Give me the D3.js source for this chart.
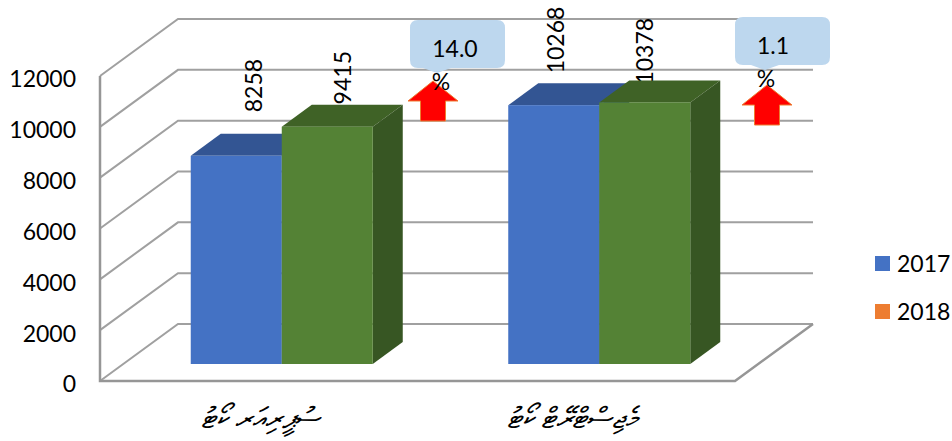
<!DOCTYPE html>
<html><head><meta charset="utf-8">
<script src="https://cdn.jsdelivr.net/npm/d3@7/dist/d3.min.js"></script>
<style>html,body{margin:0;padding:0;background:#fff}svg{display:block}text{font-family:Lato,"Noto Sans",sans-serif;fill:#000}</style>
</head><body><svg id="c" width="952" height="441"></svg>
<script>
const categories = ["ސުޕީރިއަރ ކޯޓު", "މެޖިސްޓްރޭޓް ކޯޓު"];
const seriesNames = ["2017", "2018"];
const values2017 = [8258, 10268];
const values2018 = [9415, 10378];
const changes = ["14.0", "1.1"];
const yTicks = [0, 2000, 4000, 6000, 8000, 10000, 12000];

const svg = d3.select("#c");
const y = d3.scaleLinear().domain([0, 12000]).range([381, 76]);
const barH = d3.scaleLinear().domain([0, 12000]).range([0, 302.5]);
const x = d3.scaleBand().domain(categories).range([100, 735]);
const xs = d3.scaleBand().domain(seriesNames).range([67.75, 249.75]);
const wall = {dx: 78, dy: -57}, barOff = {dx: 23, dy: -17}, depth = {dx: 30, dy: -22};
const gridC = "#a0a0a0";

// walls
const g = svg.append("g").attr("fill", "none").attr("stroke", gridC).attr("stroke-width", 2);
yTicks.forEach(t => {
  const yy = y(t);
  g.append("path").attr("d", d3.line()([[100, yy], [100 + wall.dx, yy + wall.dy], [735 + wall.dx, yy + wall.dy]]));
});
g.append("path").attr("d", d3.line()([[735 + wall.dx, y(0) + wall.dy], [735, y(0)], [100, y(0)], [100, y(12000)]])).attr("stroke", "#969696").attr("stroke-width", 2.5);

// axis
const ax = svg.append("g").attr("transform", "translate(100,3.5)")
  .call(d3.axisLeft(y).tickValues(yTicks).tickSize(0).tickPadding(24).tickFormat(d3.format("d")));
ax.select(".domain").remove();
ax.selectAll("text").style("font-family", 'Lato').style("font-size", "23px").attr("fill", "#000");

// data labels (behind bars)
const rows = [
  {s: seriesNames[0], vals: values2017, ny: [68.5, 63], nx: [16.5, 1.5], c: {f: "#4472C4", t: "#335593", r: "#2f5291"}},
  {s: seriesNames[1], vals: values2018, ny: [47, 49], nx: [14.5, -0.5], c: {f: "#548235", t: "#3f6226", r: "#375623"}}
];
rows.forEach(r => r.vals.forEach((v, i) => {
  const b = x(categories[i]) + xs(r.s) + barOff.dx, w = xs.bandwidth();
  svg.append("text").attr("text-anchor", "middle").attr("dominant-baseline", "central")
    .attr("transform", `translate(${b + w / 2 + r.nx[i]},${y(v) + barOff.dy - r.ny[i]}) rotate(-90)`)
    .style("font-size", "23px").text(v);
}));

// bars
rows.forEach(r => r.vals.forEach((v, i) => {
  const b = x(categories[i]) + xs(r.s) + barOff.dx, w = xs.bandwidth();
  const base = y(0) + barOff.dy, top = base - barH(v);
  const line = d3.line();
  const bg = svg.append("g");
  bg.append("path").attr("fill", r.c.t).attr("d", line([[b, top], [b + depth.dx, top + depth.dy], [b + w + depth.dx, top + depth.dy], [b + w, top]]) + "Z");
  bg.append("path").attr("fill", r.c.r).attr("d", line([[b + w, top], [b + w + depth.dx, top + depth.dy], [b + w + depth.dx, base + depth.dy], [b + w, base]]) + "Z");
  bg.append("rect").attr("x", b).attr("y", top).attr("width", w).attr("height", base - top).attr("fill", r.c.f);
}));

// arrows + callouts
function arrow(tx, ty) {
  const p = [[tx, ty], [tx + 25, ty + 20], [tx + 12.5, ty + 20], [tx + 12.5, ty + 40], [tx - 12.5, ty + 40], [tx - 12.5, ty + 20], [tx - 25, ty + 20]];
  svg.append("path").attr("d", d3.line()(p) + "Z").attr("fill", "#ff0000").attr("stroke", "#ED7D31").attr("stroke-width", 1);
}
function callout(bx, by, tipx, label, labelx, pctx) {
  const bw = 95, bh = 48, r = 8;
  svg.append("path").attr("fill", "#BDD7EE").attr("d",
    `M${bx + r},${by}H${bx + bw - r}Q${bx + bw},${by} ${bx + bw},${by + r}V${by + bh - r}Q${bx + bw},${by + bh} ${bx + bw - r},${by + bh}H${tipx + 14}L${tipx},${by + bh + 5}L${tipx - 14},${by + bh}H${bx + r}Q${bx},${by + bh} ${bx},${by + bh - r}V${by + r}Q${bx},${by} ${bx + r},${by}Z`);
  svg.append("text").attr("x", labelx).attr("y", by + 37).attr("text-anchor", "middle").style("font-size", "23px").text(label);
  svg.append("text").attr("x", pctx).attr("y", by + 70).attr("text-anchor", "middle").style("font-size", "23px").text("%");
}
arrow(433, 81); arrow(767, 85);
callout(410, 20, 437, changes[0], 455, 441);
callout(735, 17, 765, changes[1], 773, 766);

// category labels
const catShift = [2, -4];
categories.forEach((c, i) => {
  svg.append("text").attr("x", x(c) + x.bandwidth() / 2 + catShift[i]).attr("y", 428).attr("text-anchor", "middle").attr("direction", "rtl")
    .style("font-size", "29px").style("font-style", "italic").text(c);
});

// legend
const legendC = d3.scaleOrdinal().domain(seriesNames).range(["#4472C4", "#ED7D31"]);
const ly = d3.scalePoint().domain(seriesNames).range([263.5, 311.5]);
seriesNames.forEach(s => {
  svg.append("rect").attr("x", 875).attr("y", ly(s) - 7.5).attr("width", 15).attr("height", 15).attr("fill", legendC(s));
  svg.append("text").attr("x", 897).attr("y", ly(s) + 8).style("font-size", "23px").text(s);
});
</script></body></html>
